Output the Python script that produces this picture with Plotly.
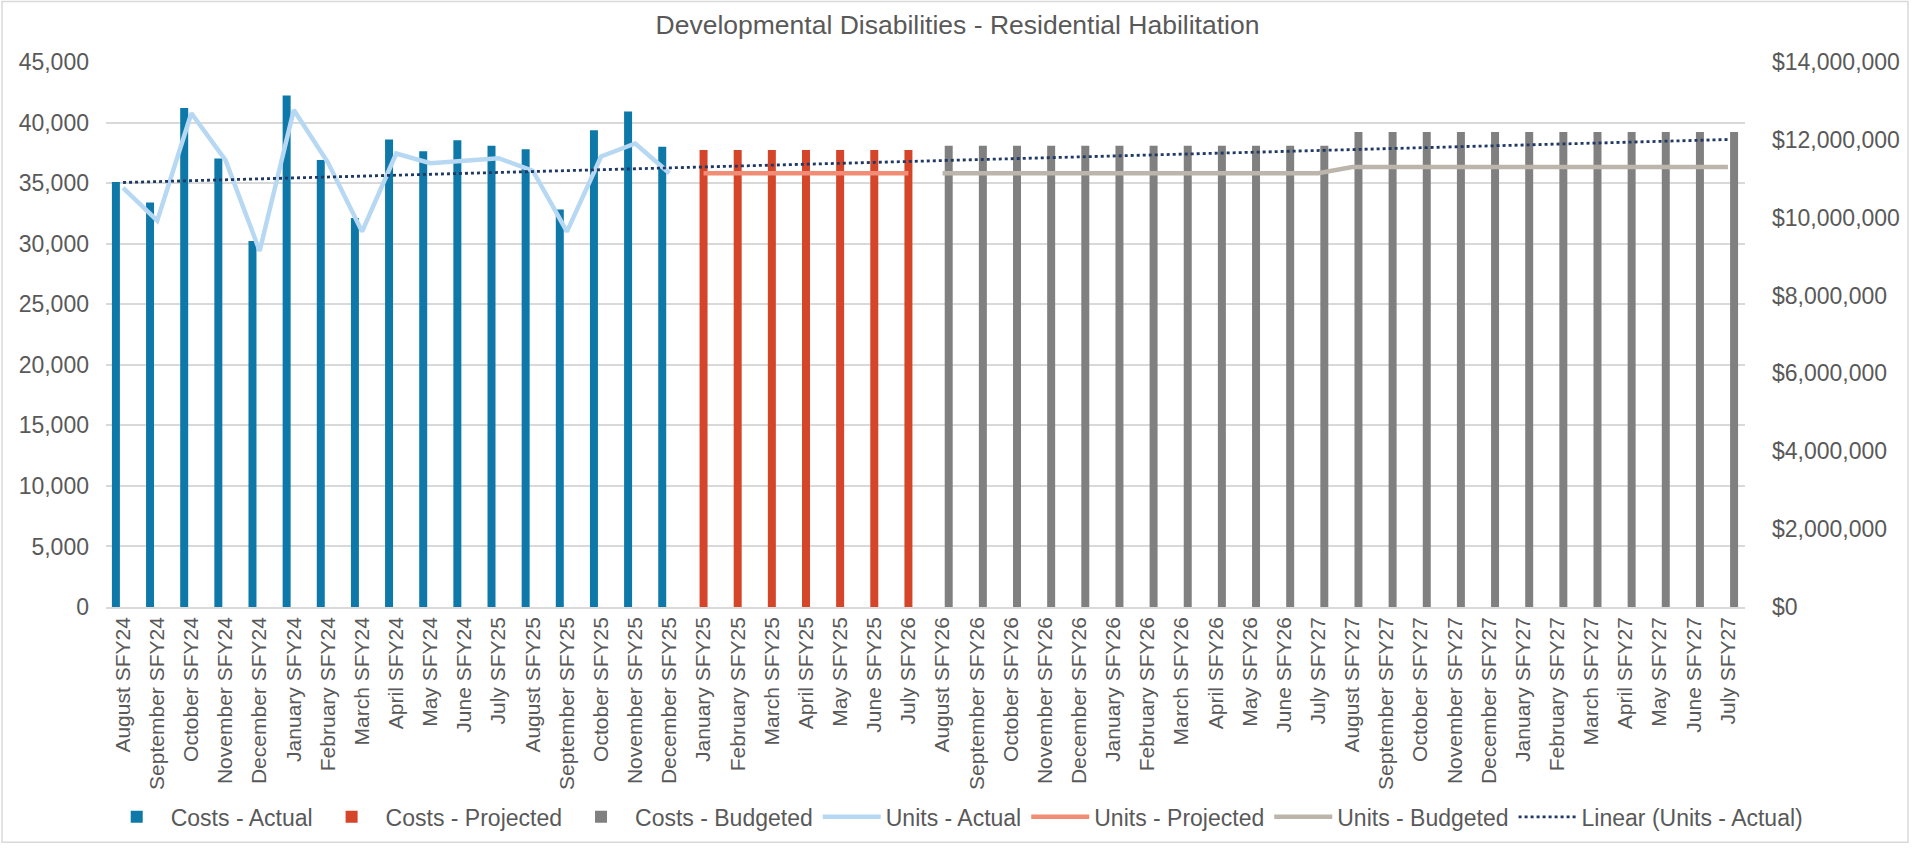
import plotly.graph_objects as go

months = [
    "August SFY24", "September SFY24", "October SFY24", "November SFY24", "December SFY24",
    "January SFY24", "February SFY24", "March SFY24", "April SFY24", "May SFY24", "June SFY24",
    "July SFY25", "August SFY25", "September SFY25", "October SFY25", "November SFY25", "December SFY25",
    "January SFY25", "February SFY25", "March SFY25", "April SFY25", "May SFY25", "June SFY25",
    "July SFY26", "August SFY26", "September SFY26", "October SFY26", "November SFY26", "December SFY26",
    "January SFY26", "February SFY26", "March SFY26", "April SFY26", "May SFY26", "June SFY26",
    "July SFY27", "August SFY27", "September SFY27", "October SFY27", "November SFY27", "December SFY27",
    "January SFY27", "February SFY27", "March SFY27", "April SFY27", "May SFY27", "June SFY27",
    "July SFY27",
]
# unique internal keys so repeated labels stay separate categories
keys = [f"{i}" for i in range(len(months))]

actual_months = keys[0:17]
projected_months = keys[17:24]
budgeted_months = keys[24:48]

costs_actual = [10920000, 10390000, 12820000, 11520000, 9400000, 13140000, 11480000, 9990000,
                12010000, 11710000, 11990000, 11850000, 11760000, 10210000, 12250000, 12730000, 11820000]
costs_projected = [11740000, 11740000, 11740000, 11740000, 11740000, 11740000, 11740000]
costs_budgeted = [11850000] * 12 + [12200000] * 12

units_actual = [34600, 31900, 40770, 36900, 29400, 41040, 36700, 31000, 37440, 36650, 36840,
                37060, 36020, 31000, 37200, 38270, 35820]
units_projected = [35820, 35820, 35820, 35820, 35820, 35820, 35820]
units_budgeted = [35820] * 12 + [36320] * 12

trend_months = [keys[0], keys[-1]]
trend_values = [35050, 38600]

font_family = "Liberation Sans, Arial, sans-serif"
text_color = "#595959"
bar_w = 0.234

fig = go.Figure()
fig.add_trace(go.Bar(x=actual_months, y=costs_actual, name="Costs - Actual",
                     marker_color="#0E79A8", marker_line_width=0,
                     width=bar_w, offset=-0.21 - bar_w / 2))
fig.add_trace(go.Bar(x=projected_months, y=costs_projected, name="Costs - Projected",
                     marker_color="#D4452A", marker_line_width=0,
                     width=bar_w, offset=-bar_w / 2))
fig.add_trace(go.Bar(x=budgeted_months, y=costs_budgeted, name="Costs - Budgeted",
                     marker_color="#808080", marker_line_width=0,
                     width=bar_w, offset=0.18 - bar_w / 2))
fig.add_trace(go.Scatter(x=actual_months, y=units_actual, name="Units - Actual", mode="lines",
                         line=dict(color="#B7D8F2", width=4.5), yaxis="y2"))
fig.add_trace(go.Scatter(x=projected_months, y=units_projected, name="Units - Projected", mode="lines",
                         line=dict(color="#F08D74", width=4.5), yaxis="y2"))
fig.add_trace(go.Scatter(x=budgeted_months, y=units_budgeted, name="Units - Budgeted", mode="lines",
                         line=dict(color="#BBB5AB", width=4.5), yaxis="y2"))
fig.add_trace(go.Scatter(x=trend_months, y=trend_values, name="Linear (Units - Actual)", mode="lines",
                         line=dict(color="#1F3864", width=2.8, dash="dot"), yaxis="y2"))

fig.update_layout(
    width=1915, height=850,
    margin=dict(l=106, r=170, t=62, b=239),
    paper_bgcolor="white", plot_bgcolor="white",
    font=dict(family=font_family, color=text_color, size=22),
    title=dict(text="Developmental Disabilities - Residential Habilitation",
               x=0.5, xanchor="center", y=0.971, yanchor="middle",
               font=dict(size=26.5, color=text_color)),
    barmode="overlay",
    showlegend=True,
    legend=dict(orientation="h", x=-0.002, xanchor="left", y=-0.385, yanchor="middle",
                font=dict(size=23, color=text_color), traceorder="normal",
                bgcolor="rgba(0,0,0,0)", itemwidth=58, tracegroupgap=0),
    xaxis=dict(type="category", categoryorder="array", categoryarray=keys,
               tickmode="array", tickvals=keys, ticktext=months, automargin=False,
               tickangle=-90, showgrid=False, showline=True, linecolor="#D9D9D9",
               linewidth=1.5, ticks="", tickfont=dict(size=21, color=text_color)),
    yaxis=dict(range=[0, 14000000], dtick=2000000, tickformat=",", tickprefix="$",
               side="right", showgrid=False, zeroline=False, ticks="", automargin=False,
               ticklabelstandoff=26, tickfont=dict(size=23, color=text_color)),
    yaxis2=dict(range=[0, 45000], dtick=5000, tickformat=",", overlaying="y", side="left",
                showgrid=True, gridcolor="#D9D9D9", gridwidth=1.5, zeroline=False, ticks="",
                automargin=False, ticklabelstandoff=16, tickfont=dict(size=23, color=text_color)),
    shapes=[dict(type="rect", xref="paper", yref="paper",
                 x0=(2 - 106) / 1639, x1=(1908 - 106) / 1639,
                 y0=(611 - 848) / 549, y1=(611 - 1) / 549,
                 line=dict(color="#D9D9D9", width=1.5), fillcolor="rgba(0,0,0,0)", layer="below")],
)

fig.write_html("out.html", config={"displayModeBar": False},
               post_script="document.body.style.margin='0';")
